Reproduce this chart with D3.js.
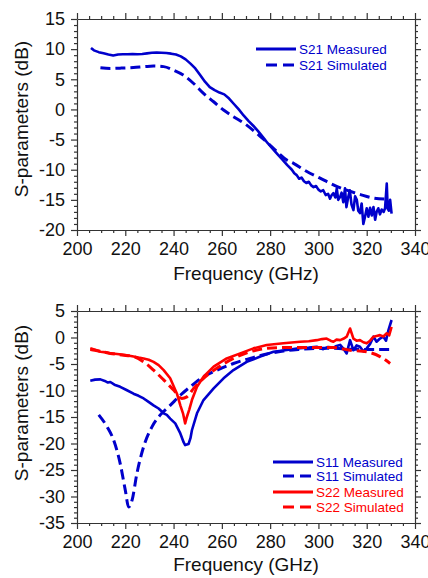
<!DOCTYPE html>
<html>
<head>
<meta charset="utf-8">
<script src="https://cdn.jsdelivr.net/npm/d3@7"></script>
<style>
  html, body { margin: 0; padding: 0; background: #fff; }
  svg { display: block; font-family: "Liberation Sans", Arial, sans-serif; }
  .axis path, .axis line { stroke: #333; stroke-width: 1.2; }
  .axis text { font-size: 18px; fill: #111; }
  .title { font-size: 19px; fill: #111; }
  .legend text { font-size: 13.5px; }
</style>
</head>
<body>
<div id="graphic"></div>
<script>
// ---- top panel: S21 ----
var s21MeasFreq = [205.8, 207, 209, 211, 213, 215, 217, 219, 221, 223, 225, 227, 229, 231, 233, 235, 237, 239, 241, 243,
  245, 247, 249, 251, 253, 255, 257, 259, 261, 263, 265, 267, 269, 271, 273, 275, 277, 279, 281, 283,
  285, 287, 289, 290, 291, 292, 293, 294, 295, 296, 297, 298, 299, 300, 301, 302, 303, 304, 304.8, 305.5,
  306.2, 307, 307.6, 308.2, 309, 309.6, 310.3, 311, 311.6, 312.3, 313, 313.7, 314.5, 315.2, 315.9, 316.5, 317.2, 317.9, 318.6, 319.3,
  320, 320.7, 321.4, 322.1, 322.8, 323.5, 324.1, 324.8, 325.5, 326.2, 327, 327.6, 328.3, 328.7, 329.2, 329.7, 330.3];
var s21MeasDb = [10.2, 9.8, 9.5, 9.3, 9.1, 8.95, 9.1, 9.15, 9.15, 9.2, 9.15, 9.2, 9.3, 9.4, 9.45, 9.4, 9.35, 9.25, 9.1, 8.8,
  8.3, 7.6, 6.8, 5.7, 4.6, 3.7, 3.2, 2.8, 2.5, 1.8, 0.9, 0.0, -1.0, -1.9, -2.7, -3.6, -4.6, -5.6, -6.5, -7.4,
  -8.3, -9.2, -10.0, -10.6, -10.9, -11.5, -11.3, -11.9, -12.2, -12.0, -12.6, -12.9, -12.7, -13.3, -13.6, -13.4, -14.2, -14.0, -14.8, -14.2,
  -13.9, -14.6, -13.1, -15.0, -14.5, -13.8, -15.4, -13.1, -16.2, -14.6, -13.4, -15.8, -16.7, -14.4, -15.0, -16.8, -17.2, -15.6, -19.0, -17.8,
  -16.4, -17.8, -16.3, -17.6, -16.2, -18.3, -17.0, -16.4, -17.4, -16.6, -17.0, -16.4, -12.3, -16.5, -16.8, -15.0, -17.3];

var s21SimFreq = [209.7, 213.8, 218, 223.4, 228, 231.7, 235.9, 240, 244, 248.3, 252.4, 256.6, 260.7, 264.8, 270.3, 274.5,
  278.6, 282.8, 286.9, 289.7, 295.2, 300.7, 306.2, 311.7, 317.2, 322.8, 329];
var s21SimDb = [6.9, 6.8, 6.85, 6.95, 7.1, 7.2, 7.1, 6.5, 5.7, 4.3, 2.65, 1.27, -0.1, -1.2, -2.6, -4.0,
  -5.4, -7.0, -8.4, -8.95, -10.3, -11.4, -12.5, -13.4, -14.1, -14.7, -14.9];

// ---- bottom panel: S11 / S22 ----
var s11MeasFreq = [205.5, 207.5, 209.7, 211.5, 212.8, 213.8, 215.5, 217.9, 220.5, 223.4, 225.5, 227.6, 229.5, 231.7, 233.8, 235.9, 237.2, 238.6, 240.7, 242.8,
  244.2, 244.8, 246.2, 247, 247.6, 249.7, 252.4, 256.6, 260.7, 264.8, 270.3, 275.9, 281.4, 286.9, 292.4, 296, 299.3, 302, 304, 306.2,
  307.5, 309, 310.5, 311.7, 313.1, 314.5, 315.8, 317.2, 318.6, 320, 321.4, 322.8, 324.1, 325.5, 326.9, 328, 329, 330.3];
var s11MeasDb = [-8.15, -7.95, -7.9, -8.2, -8.5, -8.4, -8.9, -9.3, -9.9, -10.6, -11.0, -11.5, -12.1, -12.8, -13.4, -14.3, -14.6, -15.3, -16.2, -18.1,
  -19.8, -20.3, -20.1, -19.0, -17.5, -14.3, -11.8, -9.6, -7.7, -6.15, -4.6, -3.6, -2.7, -2.35, -2.0, -1.9, -1.75, -2.2, -1.8, -1.9,
  -1.6, -1.4, -2.2, -3.0, -0.5, -2.4, -1.5, -1.75, -2.6, -2.05, -1.2, 0.15, -0.8, -0.2, 0.15, -0.6, 1.4, 3.3];

var s11SimFreq = [209, 212.4, 215.2, 217.9, 220, 221.4, 222.8, 224.8, 227.6, 231, 234.5, 238.6, 242.8, 246.9, 252.4, 257.9,
  264.8, 271.7, 278.6, 285.5, 292.4, 299.3, 306.2, 313.1, 320, 329.7];
var s11SimDb = [-14.6, -16.8, -19.4, -23.8, -28.8, -32.0, -30.7, -25.7, -20.6, -16.9, -14.6, -12.8, -10.9, -9.3, -7.4, -6.2,
  -4.9, -3.95, -3.1, -2.55, -2.25, -2.05, -2.05, -2.2, -2.25, -2.25];

var s22MeasFreq = [205.5, 207.5, 209.7, 212, 214, 216.6, 220, 223.4, 225.5, 227.6, 229.7, 231.7, 233.8, 235.9, 238.6, 241.4, 242.8, 243.9, 244.8, 245.5,
  246.5, 247.6, 249.7, 252.4, 256.6, 262, 267.6, 273.1, 278.6, 285.5, 292.4, 296, 299.3, 301.5, 303.4, 305, 306.2, 307.5, 309, 310.5,
  311.7, 313.1, 314.5, 315.8, 317.2, 318.6, 320, 321.4, 322.8, 324.1, 325.5, 326.9, 328.3, 329.3, 330.3];
var s22MeasDb = [-2.05, -2.3, -2.7, -2.8, -3.0, -3.1, -3.3, -3.6, -3.8, -3.95, -4.2, -4.6, -5.2, -6.15, -7.7, -10.6, -12.8, -14.3, -16.2, -15.0,
  -13.6, -11.8, -9.3, -7.4, -5.5, -3.95, -3.0, -2.05, -1.4, -1.1, -0.8, -0.7, -0.5, -0.3, -0.2, -0.6, -0.8, -0.4, -0.5, -0.2,
  0.15, 1.7, -0.2, -0.6, -0.5, -0.9, -1.1, -0.6, 0.15, 0.3, 0.45, 0.2, 0.8, 0.4, 2.0];

var s22SimFreq = [205.5, 209.7, 213.8, 218.6, 223.4, 227.6, 231.7, 235.9, 240, 243.4, 245.5, 248.3, 252.4, 257.9, 264.8, 271.7,
  278.6, 285.5, 292.4, 299.3, 306.2, 313.1, 320, 325.5, 329.7];
var s22SimDb = [-2.25, -2.6, -3.0, -3.3, -3.6, -4.6, -6.15, -8.0, -9.9, -11.5, -11.2, -9.6, -7.7, -5.8, -3.95, -2.7,
  -2.05, -1.9, -1.9, -1.9, -1.9, -2.4, -2.7, -3.6, -4.9];

// ---- axes ----
var xTicks = [200, 220, 240, 260, 280, 300, 320, 340];
var topYTicks = [-20, -15, -10, -5, 0, 5, 10, 15];
var bottomYTicks = [-35, -30, -25, -20, -15, -10, -5, 0, 5];

var topLegend = ["S21 Measured", "S21 Simulated"];
var bottomLegend = ["S11 Measured", "S11 Simulated", "S22 Measured", "S22 Simulated"];

var BLUE = "#0000cc", RED = "#ff0000";

function zip(xs, ys) {
  return xs.map(function(x, i) { return [x, ys[i]]; });
}

var svg = d3.select("#graphic").append("svg")
    .attr("width", 428)
    .attr("height", 578);

/*
  One panel: frame with outward ticks all round, labels left and bottom,
  then the series and a legend in the upper or lower right corner
*/
function panel(opt) {
  var x = d3.scaleLinear().domain([200, 340]).range([77, 415]);
  var y = d3.scaleLinear().domain(opt.yDomain).range([opt.bottom, opt.top]);

  var xMinor = d3.range(200, 341, 5).filter(function(v) { return v % 20 != 0; });
  var yMinor = d3.range(opt.yDomain[0], opt.yDomain[1] + 1, 1).filter(function(v) { return v % 5 != 0; });

  var g = svg.append("g");
  var fmt = function(d) { return String(d); };

  // major
  g.append("g").attr("class", "axis")
    .attr("transform", "translate(0," + opt.bottom + ")")
    .call(d3.axisBottom(x).tickValues(xTicks).tickFormat(fmt).tickSize(6).tickPadding(6).tickSizeOuter(0));
  g.append("g").attr("class", "axis")
    .attr("transform", "translate(0," + opt.top + ")")
    .call(d3.axisTop(x).tickValues(xTicks).tickFormat("").tickSize(6).tickSizeOuter(0));
  g.append("g").attr("class", "axis")
    .attr("transform", "translate(77,0)")
    .call(d3.axisLeft(y).tickValues(opt.yTicks).tickFormat(fmt).tickSize(6).tickPadding(6).tickSizeOuter(0));
  g.append("g").attr("class", "axis")
    .attr("transform", "translate(415,0)")
    .call(d3.axisRight(y).tickValues(opt.yTicks).tickFormat("").tickSize(6).tickSizeOuter(0));

  // minor
  [[d3.axisBottom, x, xMinor, "0," + opt.bottom], [d3.axisTop, x, xMinor, "0," + opt.top],
   [d3.axisLeft, y, yMinor, "77,0"], [d3.axisRight, y, yMinor, "415,0"]].forEach(function(a) {
    var ax = g.append("g").attr("class", "axis")
      .attr("transform", "translate(" + a[3] + ")")
      .call(a[0](a[1]).tickValues(a[2]).tickFormat("").tickSize(3).tickSizeOuter(0));
    ax.select("path").remove();
  });

  g.selectAll(".axis text").style("font-size", "18px");

  // titles
  g.append("text").attr("class", "title")
    .attr("x", 246).attr("y", opt.xTitleY)
    .attr("text-anchor", "middle")
    .text("Frequency (GHz)");
  g.append("text").attr("class", "title")
    .attr("transform", "translate(28," + opt.yTitleMid + ") rotate(-90)")
    .attr("text-anchor", "middle")
    .text("S-parameters (dB)");

  // series
  var line = d3.line()
    .x(function(d) { return x(d[0]); })
    .y(function(d) { return y(d[1]); });
  var smooth = d3.line()
    .x(function(d) { return x(d[0]); })
    .y(function(d) { return y(d[1]); })
    .curve(d3.curveMonotoneX);

  opt.series.forEach(function(s) {
    g.append("path")
      .datum(zip(s.freq, s.db))
      .attr("d", s.dashed ? smooth : line)
      .attr("fill", "none")
      .attr("stroke", s.color)
      .attr("stroke-width", s.dashed ? 3 : 2.6)
      .attr("stroke-linejoin", "round")
      .attr("stroke-dasharray", s.dashed ? "10,5" : null);
  });

  // legend
  var lg = g.append("g").attr("class", "legend");
  opt.series.forEach(function(s, i) {
    var ly = opt.legendY[i];
    lg.append("line")
      .attr("x1", s.dashed ? opt.legendX0 + 10 : opt.legendX0).attr("x2", opt.legendX1)
      .attr("y1", ly).attr("y2", ly)
      .attr("stroke", s.color)
      .attr("stroke-width", 3)
      .attr("stroke-dasharray", s.dashed ? "11,6" : null);
    lg.append("text")
      .attr("x", opt.legendX1 + 3).attr("y", ly)
      .attr("dy", "0.36em")
      .attr("fill", s.color)
      .text(s.name);
  });
}

panel({
  top: 19, bottom: 230,
  yDomain: [-20, 15], yTicks: topYTicks,
  xTitleY: 280, yTitleMid: 119,
  legendX0: 256, legendX1: 296, legendY: [49, 65],
  series: [
    { name: topLegend[0], freq: s21MeasFreq, db: s21MeasDb, color: BLUE, dashed: false },
    { name: topLegend[1], freq: s21SimFreq, db: s21SimDb, color: BLUE, dashed: true }
  ]
});

panel({
  top: 311, bottom: 523,
  yDomain: [-35, 5], yTicks: bottomYTicks,
  xTitleY: 571, yTitleMid: 403,
  legendX0: 273, legendX1: 313, legendY: [462, 476, 492, 507],
  series: [
    { name: bottomLegend[0], freq: s11MeasFreq, db: s11MeasDb, color: BLUE, dashed: false },
    { name: bottomLegend[1], freq: s11SimFreq, db: s11SimDb, color: BLUE, dashed: true },
    { name: bottomLegend[2], freq: s22MeasFreq, db: s22MeasDb, color: RED, dashed: false },
    { name: bottomLegend[3], freq: s22SimFreq, db: s22SimDb, color: RED, dashed: true }
  ]
});
</script>
</body>
</html>
